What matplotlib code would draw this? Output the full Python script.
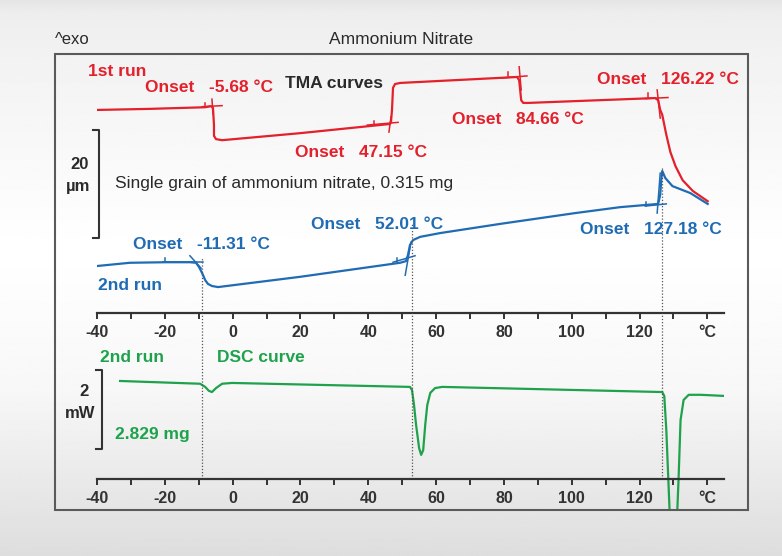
import numpy as np
import matplotlib
matplotlib.use("Agg")
import matplotlib.pyplot as plt
from matplotlib.patches import Rectangle

# ---- data ----
# TMA curves: temperature [°C], displacement [µm] (arbitrary zero)
red_T = [-40, -24.4, -8.1, -6.4, -5.8, -5.5, -5.5, -4.9, -3.1, 19.9, 46.4, 46.7, 47.0, 47.3,
         47.9, 49.4, 83.9, 84.5, 84.8, 85.1, 85.7, 87.1, 124.6, 125.5, 126.1, 126.7, 127.9,
         129.1, 130.6, 132.7, 135.7, 140.1]
red_y = [37.6, 37.8, 38.1, 38.3, 38.0, 34.8, 32.8, 32.2, 32.0, 33.3, 35.0, 35.4, 37.6, 41.7,
         42.4, 42.6, 43.7, 43.1, 41.3, 39.4, 38.9, 38.9, 39.8, 39.4, 37.6, 36.7, 33.0,
         29.8, 27.2, 24.6, 22.6, 20.7]

blue_T = [-40, -30.3, -19.9, -12.6, -10.8, -9.9, -9.0, -8.1, -7.3, -6.1, -4.3, 19.9, 49.4,
          51.1, 51.7, 52.3, 53.2, 55.3, 61.2, 78.9, 101.0, 114.3, 125.5, 126.1, 126.4, 126.7,
          127.6, 129.7, 135.0, 140.1]
blue_y = [8.7, 9.3, 9.4, 9.4, 9.3, 8.5, 7.4, 6.1, 5.4, 5.0, 4.8, 6.7, 9.3,
          9.6, 10.7, 12.6, 13.5, 14.1, 14.8, 16.5, 18.5, 19.6, 20.2, 21.9, 24.6, 26.3,
          25.0, 23.5, 22.2, 20.2]

# DSC curve: temperature [°C], heat flow [mW]
green_T = [-33.2, -9.6, -8.1, -7.0, -6.1, -4.9, -3.1, -0.2, 52.3, 52.9, 53.5, 54.1, 55.0,
           55.6, 56.2, 56.8, 57.4, 58.3, 59.7, 61.8, 126.7, 127.3, 127.9, 128.5, 129.1,
           130.0, 130.9, 131.5, 132.1, 133.0, 134.5, 138.0, 145.4]
green_y = [2.48, 2.41, 2.33, 2.23, 2.20, 2.30, 2.41, 2.43, 2.33, 2.25, 1.87, 1.37, 0.78,
           0.61, 0.73, 1.37, 1.87, 2.18, 2.30, 2.33, 2.20, 2.10, 1.24, -0.03, -1.29,
           -1.54, -1.29, -0.03, 1.49, 2.0, 2.13, 2.13, 2.10]

# onset evaluation tangents (x0, y0, x1, y1)
red_tangents = [(-9.0, 38.2, -3.1, 38.4), (-6.1, 39.6, -5.8, 36.9), (-8.1, 38.9, -8.1, 38.1),
                (39.7, 34.8, 48.8, 35.3), (46.1, 33.5, 46.7, 36.3), (41.7, 35.6, 41.7, 34.8),
                (78.9, 43.5, 86.8, 43.9), (84.5, 45.6, 85.1, 41.3), (81.2, 44.6, 81.2, 43.9),
                (121.7, 39.7, 128.4, 39.9), (125.2, 41.3, 126.1, 36.1), (122.5, 40.7, 122.5, 40.0)]
blue_tangents = [(-20.5, 9.4, -8.7, 9.4), (-12.6, 10.6, -9.3, 8.3), (-19.9, 10.2, -19.9, 9.4),
                 (47.3, 9.4, 53.8, 10.6), (50.9, 7.0, 52.6, 13.1), (48.5, 10.2, 48.5, 9.4),
                 (121.7, 19.8, 127.9, 20.2), (125.2, 18.5, 126.1, 25.9), (122.0, 20.6, 122.0, 19.8)]

# vertical guide lines at the 2nd run onsets: temperature, start height in TMA plot
guide_T = [-9.0, 52.9, 126.7]
guide_top = [10.2, 16.7, 27.0]

tick_major = list(range(-40, 141, 10))
tick_labels = ['-40', '', '-20', '', '0', '', '20', '', '40', '', '60', '', '80', '', '100', '',
               '120', '', '°C']

RED = '#e3202b'
BLUE = '#1f6cb4'
GREEN = '#1ea24b'
DARK = '#2a2a2a'
FONT = ['Liberation Sans Narrow', 'Liberation Sans', 'DejaVu Sans']

W, H = 782, 556
fig = plt.figure(figsize=(W / 100, H / 100), dpi=100)


def fx(px):
    return px / W


def fy(py):
    return 1 - py / H


# background gradient
bg = fig.add_axes([0, 0, 1, 1], zorder=-10)
grad = np.interp(np.linspace(0, 1, 200), [0, 0.02, 0.1, 0.45, 0.7, 1.0],
                 [0.9, 0.93, 0.95, 1.0, 0.97, 0.87])
bg.imshow(grad[:, None], aspect='auto', cmap='gray', vmin=0, vmax=1, extent=[0, 1, 0, 1])
bg.set_axis_off()

# plot frame
fig.patches.append(Rectangle((fx(55), fy(510)), fx(748) - fx(55), fy(54) - fy(510),
                             transform=fig.transFigure, fill=False, edgecolor='#5a5a5a',
                             linewidth=1.5, zorder=1))

x0, x1 = 97, 724.3
ax1 = fig.add_axes([fx(x0), fy(313), fx(x1) - fx(x0), fy(54) - fy(313)])
ax2 = fig.add_axes([fx(x0), fy(510), fx(x1) - fx(x0), fy(313) - fy(510)])

ax1.set_ylim(0, 47.96)
ax2.set_ylim(-0.785, 4.20)
ax2.spines['bottom'].set_position(('data', 0))

for ax in (ax1, ax2):
    ax.set_facecolor('none')
    ax.set_xlim(-40, 145)
    for s in ('top', 'right', 'left'):
        ax.spines[s].set_visible(False)
    ax.spines['bottom'].set_color('#333333')
    ax.spines['bottom'].set_linewidth(1.6)
    ax.set_yticks([])
    ax.set_xticks(tick_major)
    ax.set_xticklabels(tick_labels, family=FONT, fontweight='bold')
    ax.tick_params(axis='x', direction='out', length=4.5, width=1.4, color='#333333',
                   labelsize=11.5, labelcolor='#333333', pad=4)

# TMA curves
ax1.plot(red_T, red_y, color=RED, lw=1.6, solid_joinstyle='round')
ax1.plot(blue_T, blue_y, color=BLUE, lw=1.6, solid_joinstyle='round')
for (a, b, c, d) in red_tangents:
    ax1.plot([a, c], [b, d], color=RED, lw=1.1)
for (a, b, c, d) in blue_tangents:
    ax1.plot([a, c], [b, d], color=BLUE, lw=1.1)

# DSC curve
ax2.plot(green_T, green_y, color=GREEN, lw=1.6, solid_joinstyle='round')

# guide lines
for t, top in zip(guide_T, guide_top):
    ax1.plot([t, t], [0, top], color='#555555', lw=0.9, ls=(0, (1, 1.5)))
    ax2.plot([t, t], [0, 4.20], color='#555555', lw=0.9, ls=(0, (1, 1.5)))

# scale bars
ax1.plot([-41.1, -39.4, -39.4, -41.1], [33.9, 33.9, 13.9, 13.9], color='#333333', lw=1.5,
         clip_on=False)
ax2.plot([-40.3, -38.5, -38.5, -40.3], [2.76, 2.76, 0.76, 0.76], color='#333333', lw=1.5,
         clip_on=False)


def label(px, py, s, color, weight='bold', size=12.5, ha='left'):
    fig.text(fx(px), fy(py), s, color=color, fontsize=size, fontweight=weight,
             family=FONT, ha=ha, va='center')


label(55, 40, '^exo', DARK, weight='normal', size=12)
label(401, 40, 'Ammonium Nitrate', DARK, weight='normal', size=12.5, ha='center')

label(88, 72, '1st run', RED)
label(145, 88, 'Onset   -5.68 °C', RED)
label(285, 83, 'TMA curves', DARK)
label(295, 152, 'Onset   47.15 °C', RED)
label(452, 119, 'Onset   84.66 °C', RED)
label(597, 80, 'Onset   126.22 °C', RED)

label(80, 165, '20', DARK, ha='center', size=12)
label(78, 187, 'µm', DARK, ha='center', size=12)
label(115, 184, 'Single grain of ammonium nitrate, 0.315 mg', DARK, weight='normal', size=12.5)

label(311, 225, 'Onset   52.01 °C', BLUE)
label(133, 245, 'Onset   -11.31 °C', BLUE)
label(580, 229, 'Onset   127.18 °C', BLUE)
label(98, 286, '2nd run', BLUE)

label(100, 358, '2nd run', GREEN)
label(217, 358, 'DSC curve', GREEN)
label(115, 435, '2.829 mg', GREEN)
label(84, 391, '2', DARK, ha='center', size=12)
label(80, 413, 'mW', DARK, ha='center', size=12)

fig.savefig('out.png', dpi=100)
